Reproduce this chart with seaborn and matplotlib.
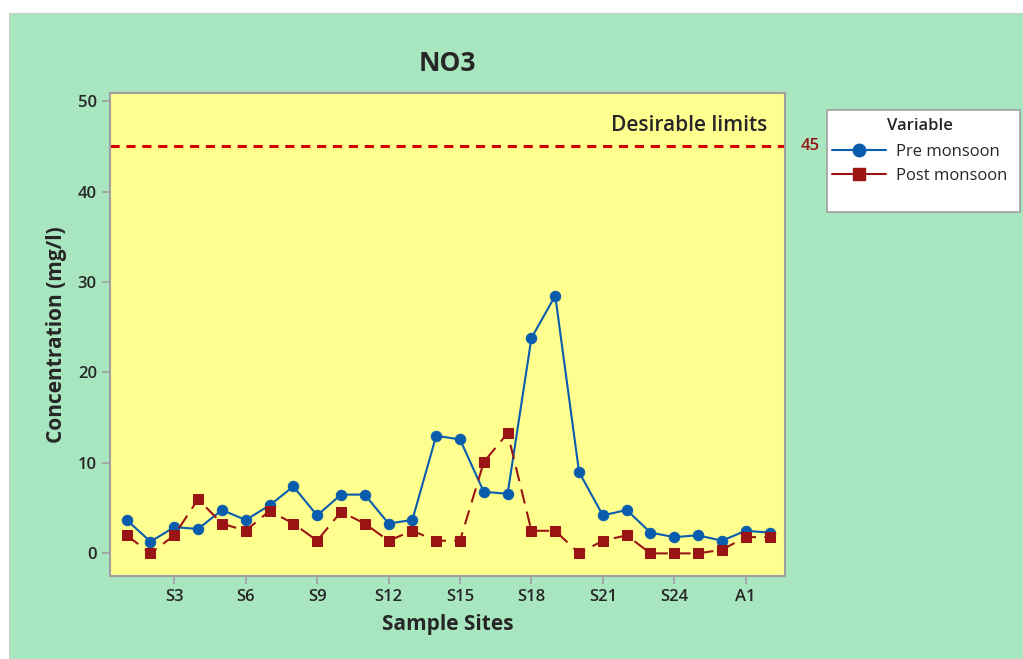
import numpy as np
import pandas as pd
import matplotlib
matplotlib.use("Agg")
import matplotlib.pyplot as plt
import seaborn as sns
from matplotlib.lines import Line2D

# ---------------- data
sites = [f"S{i}" for i in range(1, 27)] + ["A1", "A2"]
pre_monsoon = [3.7, 1.3, 2.9, 2.7, 4.8, 3.7, 5.3, 7.4, 4.2, 6.5, 6.5, 3.3, 3.7, 13.0,
               12.6, 6.8, 6.6, 23.8, 28.5, 9.0, 4.2, 4.8, 2.3, 1.8, 2.0, 1.4, 2.5, 2.3]
post_monsoon = [2.0, 0.0, 2.0, 6.0, 3.3, 2.5, 4.7, 3.3, 1.4, 4.6, 3.3, 1.4, 2.5, 1.4,
                1.4, 10.1, 13.3, 2.5, 2.5, 0.0, 1.4, 2.0, 0.0, 0.0, 0.0, 0.4, 1.8, 1.8]
tick_sites = ["S3", "S6", "S9", "S12", "S15", "S18", "S21", "S24", "A1"]
limit = 45

pos = np.arange(1, len(sites) + 1)
df = pd.DataFrame({"pos": pos, "site": sites, "pre": pre_monsoon, "post": post_monsoon})

green = "#A8E6BF"
yellow = "#FFFF90"
blue = "#0A5DAD"
red = "#9B1414"

sns.set_style("ticks")
plt.rcParams["font.family"] = ["Open Sans", "DejaVu Sans"]

fig = plt.figure(figsize=(10.23, 6.59), dpi=100)
fig.patch.set_facecolor("white")
# green panel (leaves a thin white strip top/left like the source)
fig.patches.append(plt.Rectangle((9 / 1023, 0), 1, 1 - 13 / 659, transform=fig.transFigure,
                                 facecolor=green, edgecolor="#cccccc", lw=0.8, zorder=-10))
# legend box
fig.patches.append(plt.Rectangle((827 / 1023, 1 - 212 / 659), 193 / 1023, 102 / 659,
                                 transform=fig.transFigure, facecolor="white",
                                 edgecolor="#a0a0a0", lw=1.2, zorder=1))

ax = fig.add_axes([110 / 1023, 1 - 576 / 659, 675 / 1023, 483 / 659])
ax.set_facecolor(yellow)

sns.lineplot(data=df, x="pos", y="pre", ax=ax, color=blue, lw=1.5,
             marker="o", markersize=7.5, markeredgecolor=blue)
sns.lineplot(data=df, x="pos", y="post", ax=ax, color=red, lw=1.5,
             marker="s", markersize=7.5, markeredgecolor=red, dashes=(7, 4))

ax.axhline(limit, color="#D40000", lw=2.2, ls=(0, (3, 2.2)), zorder=1)
ax.text(27.9, limit + 1.2, "Desirable limits", ha="right", va="bottom",
        fontsize=15, fontweight="semibold")
ax.text(29.3, limit, "45", ha="left", va="center", fontsize=12, color=red,
        fontweight="semibold", clip_on=False)

ax.set_xlim(0.3, 28.65)
ax.set_ylim(-2.5, 50.9)
ax.set_yticks([0, 10, 20, 30, 40, 50])
ax.set_xticks([pos[sites.index(s)] for s in tick_sites])
ax.set_xticklabels(tick_sites)
ax.tick_params(axis="both", labelsize=12, color="#a0a0a0", length=6, width=1.2)
for lab in ax.get_xticklabels() + ax.get_yticklabels():
    lab.set_fontweight("semibold")
for sp in ax.spines.values():
    sp.set_visible(True)
    sp.set_color("#a0a0a0")
    sp.set_linewidth(1.5)

ax.set_xlabel("Sample Sites", fontsize=15, fontweight="bold", labelpad=6)
ax.set_ylabel("Concentration (mg/l)", fontsize=15, fontweight="bold", labelpad=8)
ax.set_title("NO3", fontsize=19, fontweight="bold", pad=16)

handles = [
    Line2D([], [], color=blue, lw=1.5, marker="o", markersize=9),
    Line2D([], [], color=red, lw=1.5, marker="s", markersize=9),
]
leg = fig.legend(handles, ["Pre monsoon", "Post monsoon"], title="Variable",
                 loc="upper left", bbox_to_anchor=(829 / 1023, 1 - 115 / 659),
                 frameon=False, fontsize=12, title_fontsize=12,
                 handlelength=3.2, handletextpad=0.6, borderpad=0.2,
                 labelspacing=0.45, borderaxespad=0)
leg.get_title().set_fontweight("semibold")
leg._legend_box.align = "center"
leg._legend_box.sep = 7
leg.set_zorder(2)

fig.savefig("out.png", dpi=100, facecolor=fig.get_facecolor())
